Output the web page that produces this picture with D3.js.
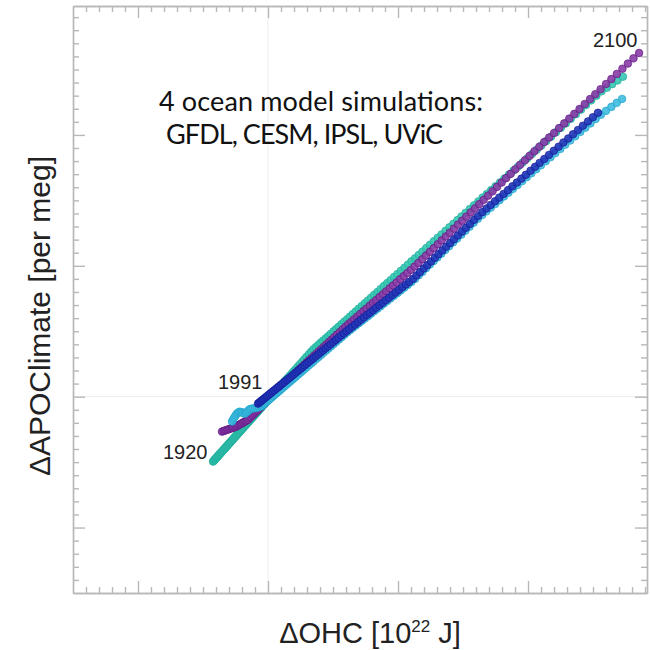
<!DOCTYPE html>
<html><head><meta charset="utf-8">
<script src="https://cdn.jsdelivr.net/npm/d3@7"></script>
<style>body{margin:0;background:#fff}svg{display:block}</style>
</head><body>
<script>
// ---- Data: ΔOHC [10^22 J] and ΔAPOClimate [per meg], one value per year ----
const uvicStart = 1920;
const uvicOHC = [-4.23,-4.19,-4.15,-4.11,-4.07,-4.03,-3.99,-3.94,-3.90,-3.86,
-3.81,-3.77,-3.72,-3.68,-3.63,-3.59,-3.54,-3.50,-3.45,-3.41,
-3.36,-3.31,-3.26,-3.22,-3.17,-3.12,-3.07,-3.02,-2.97,-2.92,
-2.87,-2.82,-2.77,-2.71,-2.66,-2.61,-2.56,-2.50,-2.45,-2.39,
-2.34,-2.29,-2.23,-2.18,-2.12,-2.07,-2.01,-1.95,-1.90,-1.84,
-1.78,-1.72,-1.66,-1.61,-1.55,-1.49,-1.43,-1.37,-1.30,-1.24,
-1.18,-1.12,-1.06,-0.99,-0.93,-0.87,-0.81,-0.74,-0.68,-0.61,-0.55,
-0.50,-0.40,-0.30,-0.20,-0.10,0.01,0.12,0.24,0.35,0.47,
0.60,0.72,0.85,0.98,1.12,1.26,1.40,1.54,1.69,1.84,
1.99,2.14,2.30,2.46,2.63,2.79,2.96,3.14,3.31,3.49,
3.67,3.86,4.04,4.23,4.43,4.62,4.82,5.03,5.23,5.44,
5.65,5.86,6.08,6.30,6.52,6.75,6.98,7.21,7.44,7.68,
7.92,8.16,8.41,8.66,8.91,9.17,9.42,9.69,9.95,10.22,
10.49,10.76,11.03,11.31,11.59,11.88,12.17,12.46,12.75,13.04,
13.34,13.65,13.95,14.26,14.57,14.88,15.20,15.52,15.84,16.17,
16.50,16.83,17.16,17.50,17.84,18.18,18.53,18.88,19.23,19.58,
19.94,20.30,20.67,21.03,21.40,21.77,22.15,22.53,22.91,23.29,
23.68,24.07,24.46,24.86,25.26,25.66,26.07,26.47,26.88,27.30];
const uvicAPO = [-4.96,-4.92,-4.87,-4.83,-4.78,-4.74,-4.69,-4.64,-4.59,-4.55,
-4.49,-4.45,-4.39,-4.35,-4.29,-4.25,-4.19,-4.15,-4.09,-4.05,
-3.99,-3.94,-3.88,-3.84,-3.78,-3.73,-3.67,-3.61,-3.56,-3.50,
-3.45,-3.39,-3.34,-3.27,-3.21,-3.16,-3.10,-3.04,-2.98,-2.91,
-2.86,-2.80,-2.74,-2.68,-2.61,-2.56,-2.49,-2.42,-2.37,-2.30,
-2.24,-2.17,-2.10,-2.05,-1.98,-1.91,-1.85,-1.78,-1.70,-1.64,
-1.57,-1.50,-1.44,-1.36,-1.29,-1.22,-1.16,-1.08,-1.01,-0.93,-0.87,
-0.81,-0.70,-0.59,-0.48,-0.37,-0.24,-0.12,0.01,0.13,0.27,
0.41,0.54,0.69,0.83,0.99,1.15,1.30,1.46,1.62,1.79,
1.96,2.12,2.30,2.48,2.67,2.85,3.04,3.24,3.43,3.62,
3.78,3.95,4.11,4.28,4.45,4.62,4.80,4.99,5.17,5.35,
5.54,5.73,5.92,6.12,6.32,6.52,6.73,6.93,7.14,7.35,
7.56,7.78,8.00,8.22,8.45,8.68,8.90,9.14,9.37,9.61,
9.85,10.09,10.34,10.58,10.83,11.09,11.35,11.61,11.87,12.13,
12.39,12.67,12.94,13.21,13.49,13.77,14.05,14.34,14.62,14.91,
15.21,15.49,15.78,16.08,16.37,16.67,16.97,17.28,17.58,17.89,
18.21,18.54,18.87,19.19,19.53,19.86,20.20,20.54,20.88,21.23,
21.58,21.93,22.28,22.64,23.00,23.33,23.61,23.88,24.16,24.45];

const cesmStart = 1960;
const cesmOHC = [-3.54,-3.43,-3.32,-3.22,-3.11,-3.00,-2.89,-2.78,-2.68,-2.57,
-2.46,-2.37,-2.28,-2.18,-2.09,-2.00,-1.91,-1.82,-1.72,-1.63,
-1.54,-1.44,-1.34,-1.24,-1.14,-1.04,-0.94,-0.84,-0.74,-0.64,-0.55,
-0.46,-0.36,-0.26,-0.15,-0.04,0.07,0.19,0.31,0.43,0.56,
0.68,0.82,0.95,1.09,1.23,1.37,1.52,1.67,1.82,1.98,
2.13,2.30,2.46,2.63,2.80,2.98,3.15,3.33,3.52,3.70,
3.89,4.08,4.28,4.48,4.68,4.88,5.09,5.30,5.52,5.74,
5.96,6.18,6.41,6.63,6.87,7.10,7.34,7.58,7.83,8.07,
8.32,8.58,8.84,9.10,9.36,9.62,9.89,10.17,10.44,10.72,
11.00,11.28,11.57,11.86,12.16,12.45,12.75,13.06,13.36,13.67,
13.98,14.30,14.62,14.94,15.26,15.59,15.92,16.25,16.59,16.93,
17.27,17.62,17.97,18.32,18.67,19.03,19.39,19.76,20.12,20.49,
20.87,21.24,21.62,22.00,22.39,22.78,23.17,23.56,23.96,24.36,
24.77,25.17,25.58,26.00,26.41,26.83,27.26,27.68,28.11,28.54];
const cesmAPO = [-2.67,-2.63,-2.59,-2.56,-2.52,-2.48,-2.44,-2.40,-2.37,-2.33,
-2.29,-2.24,-2.18,-2.13,-2.08,-2.03,-1.97,-1.92,-1.87,-1.81,
-1.76,-1.66,-1.56,-1.47,-1.37,-1.27,-1.17,-1.07,-0.98,-0.88,-0.78,
-0.69,-0.59,-0.50,-0.39,-0.28,-0.17,-0.06,0.06,0.17,0.30,
0.41,0.55,0.68,0.81,0.95,1.08,1.23,1.37,1.52,1.67,
1.82,1.99,2.14,2.30,2.45,2.62,2.77,2.94,3.11,3.27,
3.45,3.62,3.80,3.99,4.17,4.35,4.54,4.74,4.94,5.14,
5.34,5.54,5.73,5.92,6.13,6.33,6.54,6.74,6.96,7.17,
7.38,7.61,7.83,8.05,8.28,8.50,8.73,8.98,9.21,9.45,
9.69,9.95,10.22,10.50,10.79,11.07,11.35,11.65,11.94,12.24,
12.53,12.84,13.15,13.45,13.76,14.08,14.39,14.71,15.04,15.36,
15.69,16.03,16.36,16.70,17.03,17.38,17.72,18.06,18.40,18.75,
19.10,19.45,19.80,20.15,20.52,20.88,21.25,21.61,21.98,22.36,
22.74,23.11,23.49,23.89,24.27,24.66,25.06,25.45,25.85,26.26];

const ipslStart = 1970;
const ipslOHC = [-2.77,-2.69,-2.60,-2.50,-2.40,-2.30,-2.20,-2.10,-2.00,-1.90,
-1.80,-1.70,-1.60,-1.50,-1.40,-1.28,-1.15,-1.00,-0.85,-0.70,-0.55,
-0.46,-0.36,-0.27,-0.16,-0.06,0.05,0.16,0.27,0.39,0.51,
0.63,0.76,0.89,1.02,1.15,1.29,1.43,1.57,1.72,1.87,
2.02,2.17,2.33,2.49,2.65,2.82,2.99,3.16,3.34,3.51,
3.70,3.88,4.07,4.26,4.45,4.64,4.84,5.04,5.25,5.46,
5.67,5.88,6.10,6.31,6.54,6.76,6.99,7.22,7.45,7.69,
7.93,8.17,8.42,8.66,8.92,9.17,9.43,9.69,9.95,10.21,
10.48,10.75,11.03,11.31,11.59,11.87,12.16,12.45,12.74,13.03,
13.33,13.63,13.93,14.24,14.55,14.87,15.18,15.50,15.82,16.14,
16.47,16.80,17.13,17.47,17.81,18.15,18.50,18.84,19.19,19.55,
19.90,20.26,20.63,20.99,21.36,21.73,22.10,22.48,22.86,23.24,
23.63,24.02,24.41,24.80,25.20,25.60,26.00,26.41,26.82,27.23];
const ipslAPO = [-1.90,-1.75,-1.60,-1.45,-1.30,-1.22,-1.15,-1.17,-1.20,-1.25,
-1.30,-1.22,-1.15,-1.05,-0.95,-0.92,-0.90,-0.88,-0.85,-0.80,-0.75,
-0.69,-0.60,-0.53,-0.43,-0.35,-0.25,-0.16,-0.07,0.04,0.14,
0.24,0.35,0.46,0.58,0.69,0.81,0.93,1.05,1.17,1.30,
1.43,1.56,1.70,1.83,1.97,2.11,2.26,2.41,2.56,2.70,
2.87,3.02,3.18,3.35,3.51,3.67,3.84,4.01,4.19,4.37,
4.55,4.73,4.92,5.08,5.26,5.43,5.61,5.79,5.97,6.15,
6.34,6.53,6.72,6.91,7.11,7.31,7.51,7.71,7.91,8.12,
8.33,8.54,8.76,9.00,9.27,9.53,9.81,10.09,10.36,10.64,
10.92,11.21,11.49,11.79,12.08,12.38,12.68,12.98,13.29,13.59,
13.88,14.16,14.44,14.72,15.01,15.30,15.59,15.88,16.17,16.47,
16.77,17.07,17.38,17.68,17.99,18.30,18.61,18.93,19.25,19.57,
19.90,20.23,20.55,20.88,21.22,21.54,21.84,22.14,22.45,22.75];

const gfdlStart = 1991;
const gfdlOHC = [-0.77,-0.68,-0.59,-0.49,-0.39,-0.29,-0.18,-0.08,0.03,0.15,
0.26,0.38,0.50,0.63,0.75,0.88,1.01,1.15,1.29,1.43,
1.57,1.72,1.87,2.02,2.17,2.33,2.49,2.65,2.82,2.98,
3.15,3.33,3.50,3.68,3.87,4.05,4.24,4.43,4.62,4.82,
5.02,5.22,5.42,5.63,5.84,6.05,6.26,6.48,6.70,6.93,
7.15,7.38,7.61,7.85,8.08,8.32,8.57,8.81,9.06,9.31,
9.57,9.82,10.08,10.34,10.61,10.87,11.15,11.42,11.69,11.97,
12.25,12.54,12.83,13.11,13.41,13.70,14.00,14.30,14.60,14.91,
15.22,15.53,15.85,16.16,16.48,16.81,17.13,17.46,17.79,18.12,
18.46,18.80,19.14,19.49,19.83,20.19,20.54,20.89,21.25,21.61,
21.98,22.35,22.72,23.09,23.46,23.84,24.22,24.61,24.99,25.38];
const gfdlAPO = [-0.53,-0.46,-0.38,-0.30,-0.22,-0.14,-0.05,0.03,0.12,0.22,
0.31,0.41,0.50,0.61,0.71,0.81,0.92,1.03,1.15,1.26,
1.37,1.49,1.62,1.74,1.86,1.99,2.12,2.25,2.39,2.52,
2.66,2.80,2.94,3.09,3.24,3.39,3.54,3.70,3.85,4.01,
4.18,4.34,4.50,4.67,4.84,5.01,5.18,5.35,5.52,5.70,
5.88,6.06,6.24,6.42,6.60,6.79,6.99,7.17,7.37,7.56,
7.77,7.96,8.16,8.37,8.58,8.78,9.00,9.26,9.52,9.79,
10.05,10.33,10.61,10.88,11.17,11.45,11.73,12.02,12.31,12.61,
12.90,13.20,13.51,13.81,14.10,14.38,14.65,14.93,15.21,15.49,
15.78,16.07,16.36,16.66,16.95,17.26,17.56,17.86,18.16,18.47,
18.79,19.10,19.42,19.73,20.05,20.37,20.70,21.03,21.35,21.69];

// axis ticks (the original shows tick marks only, no numbers)
const xMajorTicks = [-10, 0, 10, 20];
const yMajorTicks = [-10, 0, 10, 20];
const yearLabels = ["1920", "1991", "2100"];
const noteLines = ["4 ocean model simulations:", "GFDL, CESM, IPSL, UViC"];

// ---- Chart ----
const W = 650, H = 650;
const svg = d3.select("body").append("svg").attr("width", W).attr("height", H);

const x = d3.scaleLinear().domain([-15, 29.15]).range([73, 647]);
const y = d3.scaleLinear().domain([-15, 29.85]).range([593, 6]);

const xMinor = d3.range(-14, 30).filter(v => !xMajorTicks.includes(v));
const yMinor = d3.range(-14, 30).filter(v => !yMajorTicks.includes(v));

// faint zero grid lines
svg.append("line").attr("x1", x(0)).attr("x2", x(0)).attr("y1", y.range()[1]).attr("y2", y.range()[0])
  .attr("stroke", "#ececec").attr("stroke-width", 1);
svg.append("line").attr("x1", x.range()[0]).attr("x2", x.range()[1]).attr("y1", y(0)).attr("y2", y(0))
  .attr("stroke", "#ececec").attr("stroke-width", 1);

const axColor = "#b8b8b8";
function drawAxis(gen, tr) {
  const g = svg.append("g").attr("transform", tr).call(gen);
  g.selectAll("path, line").attr("stroke", axColor).attr("stroke-width", 1.4);
  g.selectAll("text").remove();
  return g;
}
const sides = [
  [d3.axisBottom, x, `translate(0,${y.range()[0]})`],
  [d3.axisTop, x, `translate(0,${y.range()[1]})`],
  [d3.axisLeft, y, `translate(${x.range()[0]},0)`],
  [d3.axisRight, y, `translate(${x.range()[1]},0)`]
];
sides.forEach(([ax, sc, tr]) => {
  const isX = sc === x;
  drawAxis(ax(sc).tickValues(isX ? xMinor : yMinor).tickSize(-6).tickSizeOuter(0).tickFormat(""), tr);
  drawAxis(ax(sc).tickValues(isX ? xMajorTicks : yMajorTicks).tickSize(-12).tickSizeOuter(0).tickFormat(""), tr);
});

// series (drawing order: bottom -> top)
const series = [
  { name: "UViC", start: uvicStart, ohc: uvicOHC, apo: uvicAPO, fill: "#35c6b1", stroke: "#22ae9c" },
  { name: "CESM", start: cesmStart, ohc: cesmOHC, apo: cesmAPO, fill: "#8a3ca6", stroke: "#621a84" },
  { name: "IPSL", start: ipslStart, ohc: ipslOHC, apo: ipslAPO, fill: "#40bde0", stroke: "#22a3cc" },
  { name: "GFDL", start: gfdlStart, ohc: gfdlOHC, apo: gfdlAPO, fill: "#2536b8", stroke: "#121c98" }
];

series.forEach(s => {
  const pts = s.ohc.map((v, i) => ({ year: s.start + i, ohc: v, apo: s.apo[i] }));
  svg.append("g").selectAll("circle").data(pts).join("circle")
    .attr("cx", d => x(d.ohc)).attr("cy", d => y(d.apo)).attr("r", 3.8)
    .attr("fill", s.fill).attr("fill-opacity", 0.9)
    .attr("stroke", s.stroke).attr("stroke-width", 0.9).attr("stroke-opacity", 0.8);
});

// year annotations
const yrFont = "'Liberation Sans', Arial, sans-serif";
[[163, 459, yearLabels[0]], [218, 389, yearLabels[1]], [593, 47, yearLabels[2]]].forEach(([tx, ty, t]) => {
  svg.append("text").attr("x", tx).attr("y", ty).text(t)
    .attr("font-family", yrFont).attr("font-size", 20).attr("fill", "#222");
});

// note
const noteFont = "Lato, 'Open Sans', sans-serif";
svg.append("text").attr("x", 159).attr("y", 111).text(noteLines[0])
  .attr("font-family", noteFont).attr("font-size", 27).attr("fill", "#111")
  .attr("textLength", 324).attr("lengthAdjust", "spacing");
svg.append("text").attr("x", 166).attr("y", 144).text(noteLines[1])
  .attr("font-family", noteFont).attr("font-size", 27).attr("fill", "#111")
  .attr("textLength", 277).attr("lengthAdjust", "spacing");

// axis titles
const xt = svg.append("text").attr("x", 370).attr("y", 643).attr("text-anchor", "middle")
  .attr("font-family", yrFont).attr("font-size", 29).attr("fill", "#222");
xt.append("tspan").text("ΔOHC [10");
xt.append("tspan").text("22").attr("font-size", 17).attr("dy", -11);
xt.append("tspan").text(" J]").attr("dy", 11);

svg.append("text").attr("transform", "translate(50,316) rotate(-90)").attr("text-anchor", "middle")
  .attr("font-family", yrFont).attr("font-size", 30).attr("fill", "#222")
  .text("ΔAPOClimate [per meg]");
</script>
</body></html>
